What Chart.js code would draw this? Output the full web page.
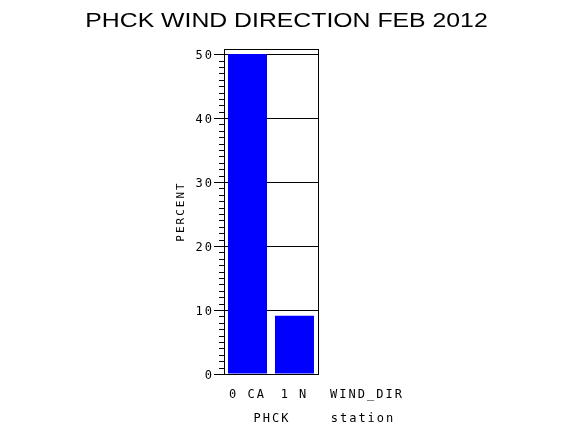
<!DOCTYPE html>
<html>
<head>
<meta charset="utf-8">
<script src="https://cdn.jsdelivr.net/npm/chart.js@4/dist/chart.umd.min.js"></script>
<style>
  body { margin: 0; background: #fff; }
  #wrap { width: 570px; height: 430px; }
</style>
</head>
<body>
<div id="wrap"><canvas id="chart" width="570" height="430"></canvas></div>
<script>
// data
const windDirs = ["0 CA", "1 N"];
const percents = [50, 9.1];
const yTicks = [0, 10, 20, 30, 40, 50];
const titleText = "PHCK WIND DIRECTION FEB 2012";
const stationName = "PHCK";

const monoFont = "'DejaVu Sans Mono', monospace";

// extra bits SAS draws: letter spacing, frame, minor ticks, title, legend-ish labels
const sasLook = {
  id: "sasLook",
  beforeDraw(chart) {
    chart.ctx.letterSpacing = "2px";
  },
  afterDraw(chart) {
    const ctx = chart.ctx;
    const area = chart.chartArea;
    const y = chart.scales.y;

    ctx.save();
    ctx.strokeStyle = "#000";
    ctx.lineWidth = 1;
    // frame around the plot
    ctx.strokeRect(Math.round(area.left) + 0.5, Math.round(area.top) + 0.5,
      Math.round(area.right - area.left), Math.round(area.bottom - area.top));

    // minor ticks every 1 unit
    ctx.beginPath();
    for (let v = 1; v < y.max; v++) {
      if (v % 10 === 0) continue;
      const py = Math.round(y.getPixelForValue(v)) + 0.5;
      ctx.moveTo(area.left - 5, py);
      ctx.lineTo(area.left, py);
    }
    ctx.stroke();

    // axis name and station line under the ticks
    ctx.fillStyle = "#000";
    ctx.font = "12px " + monoFont;
    ctx.textAlign = "center";
    ctx.textBaseline = "middle";
    ctx.letterSpacing = "2px";
    ctx.fillText("WIND_DIR", 367, 395);
    ctx.fillText(stationName, 272, 419);
    ctx.fillText("station", 363, 419);

    // title, wide sans
    ctx.letterSpacing = "0px";
    ctx.translate(286.5, 27);
    ctx.scale(1.24, 1);
    ctx.font = "20px 'Liberation Sans', Arial, sans-serif";
    ctx.textBaseline = "alphabetic";
    ctx.fillText(titleText, 0, 0);
    ctx.restore();
  }
};

new Chart(document.getElementById("chart"), {
  type: "bar",
  data: {
    labels: windDirs,
    datasets: [
      {
        data: percents,
        backgroundColor: "rgb(0, 0, 255)",
        borderWidth: 0,
        barPercentage: 0.83,
        categoryPercentage: 1,
      },
    ],
  },
  options: {
    responsive: false,
    devicePixelRatio: 1,
    animation: false,
    layout: { padding: { left: 168, right: 252, top: 49, bottom: 0 } },
    plugins: {
      legend: { display: false },
      title: { display: false },
      tooltip: { enabled: false },
    },
    scales: {
      x: {
        grid: { display: false, drawTicks: false },
        border: { display: false },
        ticks: {
          color: "#000",
          font: { family: monoFont, size: 12 },
          padding: 14,
          maxRotation: 0,
        },
        afterFit(scale) {
          scale.height = 56;
        },
      },
      y: {
        min: 0,
        max: 50.8,
        grid: {
          color: "#000",
          lineWidth: 1,
          drawTicks: true,
          tickLength: 10,
          tickColor: "#000",
        },
        border: { display: true, color: "#000" },
        ticks: {
          stepSize: 10,
          color: "#000",
          padding: 0,
          labelOffset: 2,
          font: { family: monoFont, size: 12 },
        },
        title: {
          display: true,
          text: "PERCENT",
          color: "#000",
          font: { family: monoFont, size: 11 },
          padding: { top: 7, bottom: 0 },
        },
        afterBuildTicks(scale) {
          scale.ticks = yTicks.map((v) => ({ value: v }));
        },
        afterFit(scale) {
          scale.width = 56;
        },
      },
    },
  },
  plugins: [sasLook],
});
</script>
</body>
</html>
